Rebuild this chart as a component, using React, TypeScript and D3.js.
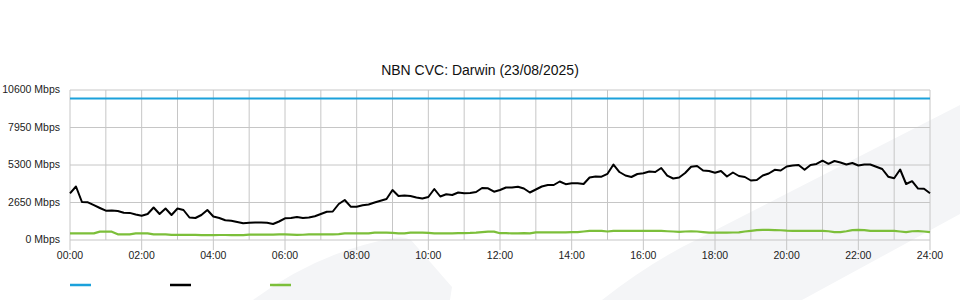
import React from "react";
import * as d3 from "d3";

const TITLE = "NBN CVC: Darwin (23/08/2025)";
const Y_TICKS = [0, 2650, 5300, 7950, 10600];
const Y_TICK_LABELS = ["0 Mbps", "2650 Mbps", "5300 Mbps", "7950 Mbps", "10600 Mbps"];
const X_TICK_HOURS = [0, 2, 4, 6, 8, 10, 12, 14, 16, 18, 20, 22, 24];
const X_TICK_LABELS = ["00:00", "02:00", "04:00", "06:00", "08:00", "10:00", "12:00", "14:00", "16:00", "18:00", "20:00", "22:00", "24:00"];
const STEP_MINUTES = 10;

// capacity (blue)
const capacity = [10000, 10000];
const capacityHours = [0, 24];

// traffic (black), Mbps every 10 minutes
const traffic = [
  3300, 3780, 2685, 2664, 2459, 2261, 2071, 2085, 2049, 1929,
  1915, 1802, 1710, 1837, 2297, 1837, 2226, 1767, 2226, 2120,
  1590, 1555, 1767, 2120, 1661, 1555, 1392, 1364, 1272, 1187,
  1223, 1237, 1237, 1215, 1131, 1307, 1533, 1555, 1625, 1555,
  1590, 1682, 1837, 1993, 2014, 2544, 2827, 2353, 2346, 2452,
  2509, 2650, 2777, 2897, 3533, 3109, 3145, 3109, 3003, 2933,
  3039, 3604, 3074, 3230, 3180, 3357, 3307, 3321, 3392, 3675,
  3653, 3413, 3533, 3710, 3710, 3767, 3639, 3357, 3569, 3781,
  3887, 3887, 4134, 3943, 4007, 4007, 3957, 4417, 4487, 4473,
  4678, 5335, 4805, 4558, 4452, 4664, 4713, 4841, 4805, 5088,
  4544, 4346, 4417, 4735, 5180, 5229, 4911, 4876, 4749, 4876,
  4487, 4770, 4523, 4452, 4205, 4240, 4558, 4699, 4961, 4911,
  5194, 5258, 5300, 4961, 5300, 5371, 5604, 5385, 5583, 5477,
  5335, 5441, 5265, 5335, 5335, 5173, 5017, 4473, 4367, 4982,
  3957, 4155, 3632, 3618, 3300,
];

// secondary (green), Mbps every 10 minutes
const secondary = [
  470, 470, 470, 470, 470, 590, 590, 590, 400, 400,
  400, 470, 470, 470, 400, 400, 400, 360, 360, 360,
  360, 360, 350, 350, 350, 355, 355, 350, 350, 350,
  380, 380, 380, 380, 380, 400, 400, 380, 360, 370,
  400, 400, 400, 400, 400, 410, 470, 470, 470, 470,
  470, 520, 520, 520, 510, 470, 470, 520, 520, 520,
  500, 470, 470, 470, 470, 480, 490, 500, 520, 560,
  590, 590, 480, 480, 470, 470, 480, 470, 540, 540,
  540, 540, 540, 540, 550, 550, 600, 640, 640, 640,
  600, 650, 640, 640, 640, 650, 640, 640, 640, 640,
  620, 600, 580, 600, 620, 600, 560, 520, 520, 520,
  520, 530, 540, 600, 650, 700, 710, 710, 700, 690,
  660, 650, 650, 650, 650, 650, 650, 620, 560, 560,
  620, 700, 710, 700, 640, 640, 640, 640, 640, 600,
  560, 620, 630, 600, 560,
];

const LEGEND_COLORS = ["#1ba1db", "#000000", "#7cbf3a"];

const W = 960;
const H = 300;
const X0 = 70;
const X1 = 930;
const YTOP = 90;
const YBOT = 240;

export default function App() {
  const x = d3.scaleLinear().domain([0, 24]).range([X0, X1]);
  const y = d3.scaleLinear().domain([0, 10600]).range([YBOT, YTOP]);
  const hourOf = (i: number) => (i * STEP_MINUTES) / 60;

  const line = d3
    .line<number>()
    .x((_, i) => x(hourOf(i)))
    .y((d) => y(d));
  const capLine = d3
    .line<number>()
    .x((_, i) => x(capacityHours[i]))
    .y((d) => y(d));

  const hours = d3.range(0, 25);
  const font = "'Liberation Sans', Arial, Helvetica, sans-serif";
  const grid = "#c6c6c6";

  return (
    <svg
      width={W}
      height={H}
      style={{ position: "absolute", left: 0, top: 0, display: "block", background: "#fff" }}
      fontFamily={font}
    >
      {/* watermark */}
      <path d="M253,300 Q318,252 393,238 Q404,236 411,240 L452,287 L450,300 Z" fill="#f4f5f7" />
      <path d="M602,300 Q650,262 700,238 L960,105 L960,214 L802,300 Z" fill="#f4f5f7" />

      {/* title */}
      <text x={480} y={75} textAnchor="middle" fontSize={14} fill="#111">
        {TITLE}
      </text>

      {/* horizontal grid */}
      {Y_TICKS.map((t) => (
        <line key={"h" + t} x1={X0} x2={X1} y1={y(t)} y2={y(t)} stroke={grid} strokeWidth={1} />
      ))}
      {/* vertical grid */}
      {hours.map((h) => (
        <line key={"v" + h} x1={x(h)} x2={x(h)} y1={YTOP} y2={YBOT} stroke={grid} strokeWidth={1} />
      ))}
      {/* x ticks */}
      {X_TICK_HOURS.map((h, i) => (
        <g key={"xt" + h}>
          <line x1={x(h)} x2={x(h)} y1={YBOT} y2={YBOT + 10} stroke={grid} strokeWidth={1} />
          <text x={x(h)} y={259} textAnchor="middle" fontSize={10.5} fill="#222">
            {X_TICK_LABELS[i]}
          </text>
        </g>
      ))}
      {/* y labels */}
      {Y_TICKS.map((t, i) => (
        <text key={"yl" + t} x={60} y={y(t) + 3} textAnchor="end" fontSize={10.5} fill="#222">
          {Y_TICK_LABELS[i]}
        </text>
      ))}

      {/* series */}
      <path d={capLine(capacity) || ""} fill="none" stroke={LEGEND_COLORS[0]} strokeWidth={2} />
      <path d={line(secondary) || ""} fill="none" stroke={LEGEND_COLORS[2]} strokeWidth={2.2} strokeLinejoin="round" />
      <path d={line(traffic) || ""} fill="none" stroke={LEGEND_COLORS[1]} strokeWidth={2} strokeLinejoin="round" />

      {/* legend */}
      {LEGEND_COLORS.map((c, i) => (
        <line key={"lg" + i} x1={70 + i * 100} x2={91 + i * 100} y1={285} y2={285} stroke={c} strokeWidth={2.5} />
      ))}
    </svg>
  );
}
